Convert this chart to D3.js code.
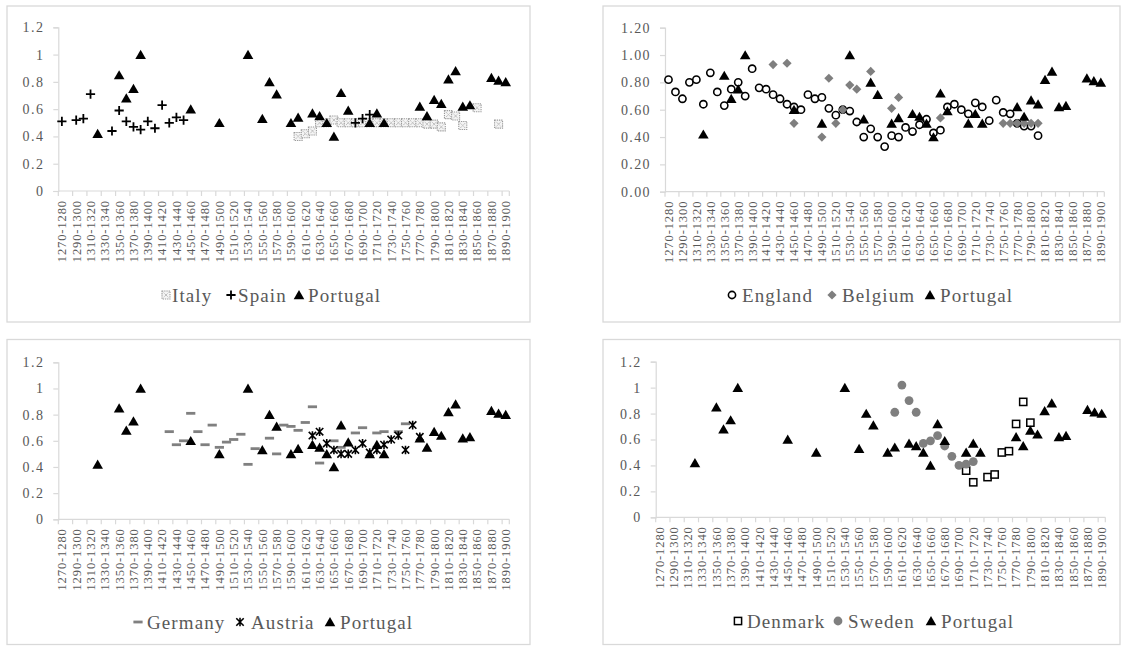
<!DOCTYPE html>
<html><head><meta charset="utf-8">
<script src="https://cdn.jsdelivr.net/npm/d3@7"></script>
<style>
body{margin:0;background:#fff;}
svg{display:block;font-family:"Liberation Serif","Times New Roman",serif;}
</style></head><body>
<svg id="c" width="1125" height="649"></svg>
<script>
// ---- data ----
const categories = d3.range(1270, 1900, 10).map(y => `${y}-${y + 10}`);
const yTicks = [0, 0.2, 0.4, 0.6, 0.8, 1, 1.2];
// [start year of decade, value]
const portugal = [[1320,0.42],[1350,0.85],[1360,0.68],[1370,0.75],[1380,1.0],[1450,0.6],[1490,0.5],[1530,1.0],[1550,0.53],[1560,0.8],[1570,0.71],[1590,0.5],[1600,0.54],[1620,0.57],[1630,0.55],[1640,0.5],[1650,0.4],[1660,0.72],[1670,0.59],[1700,0.5],[1710,0.57],[1720,0.5],[1770,0.62],[1780,0.55],[1790,0.67],[1800,0.64],[1810,0.82],[1820,0.88],[1830,0.62],[1840,0.63],[1870,0.83],[1880,0.81],[1890,0.8]];
const spain = [[1270,0.51],[1290,0.52],[1300,0.53],[1310,0.71],[1340,0.44],[1350,0.59],[1360,0.51],[1370,0.47],[1380,0.45],[1390,0.51],[1400,0.46],[1410,0.63],[1420,0.5],[1430,0.54],[1440,0.52],[1680,0.5],[1690,0.53],[1700,0.56]];
const italy = [[1600,0.40],[1610,0.42],[1620,0.44],[1630,0.5],[1640,0.5],[1650,0.52],[1660,0.5],[1670,0.5],[1680,0.5],[1690,0.5],[1700,0.5],[1710,0.5],[1720,0.5],[1730,0.5],[1740,0.5],[1750,0.5],[1760,0.5],[1770,0.5],[1780,0.49],[1790,0.49],[1800,0.47],[1810,0.56],[1820,0.55],[1830,0.48],[1850,0.61],[1880,0.49]];
const england = [[1270,0.82],[1280,0.73],[1290,0.68],[1300,0.80],[1310,0.82],[1320,0.64],[1330,0.87],[1340,0.73],[1350,0.63],[1360,0.75],[1370,0.80],[1380,0.70],[1390,0.90],[1400,0.76],[1410,0.75],[1420,0.71],[1430,0.68],[1440,0.64],[1450,0.62],[1460,0.60],[1470,0.71],[1480,0.68],[1490,0.69],[1500,0.61],[1510,0.56],[1520,0.60],[1530,0.59],[1540,0.51],[1550,0.40],[1560,0.46],[1570,0.40],[1580,0.33],[1590,0.41],[1600,0.40],[1610,0.47],[1620,0.44],[1630,0.49],[1640,0.53],[1650,0.43],[1660,0.45],[1670,0.62],[1680,0.64],[1690,0.60],[1700,0.57],[1710,0.65],[1720,0.62],[1730,0.52],[1740,0.67],[1750,0.58],[1760,0.57],[1770,0.50],[1780,0.48],[1790,0.48],[1800,0.41]];
const belgium = [[1420,0.93],[1440,0.94],[1450,0.5],[1490,0.4],[1500,0.83],[1510,0.5],[1520,0.6],[1530,0.78],[1540,0.75],[1560,0.88],[1590,0.61],[1600,0.69],[1660,0.54],[1750,0.5],[1760,0.5],[1770,0.5],[1780,0.5],[1790,0.5],[1800,0.5]];
const germany = [[1420,0.67],[1430,0.57],[1440,0.60],[1450,0.81],[1460,0.67],[1470,0.57],[1480,0.72],[1490,0.55],[1500,0.59],[1510,0.61],[1520,0.65],[1530,0.42],[1540,0.54],[1560,0.62],[1570,0.50],[1580,0.72],[1590,0.71],[1600,0.68],[1610,0.74],[1620,0.86],[1630,0.43],[1650,0.60],[1660,0.55],[1680,0.66],[1690,0.70],[1710,0.66],[1720,0.67],[1740,0.67],[1750,0.73]];
const austria = [[1620,0.64],[1630,0.67],[1640,0.58],[1650,0.53],[1660,0.50],[1670,0.50],[1680,0.53],[1690,0.58],[1700,0.51],[1710,0.53],[1720,0.57],[1730,0.61],[1740,0.64],[1750,0.53],[1760,0.72],[1770,0.63]];
const sweden = [[1600,0.81],[1610,1.02],[1620,0.90],[1630,0.81],[1640,0.57],[1650,0.59],[1660,0.63],[1670,0.55],[1680,0.47],[1690,0.40],[1700,0.41],[1710,0.43]];
const denmark = [[1700,0.36],[1710,0.27],[1730,0.31],[1740,0.33],[1750,0.50],[1760,0.51],[1770,0.72],[1780,0.89],[1790,0.73]];

const cat = yr => `${yr}-${yr + 10}`;
const GREY = "#595959", LINE = "#d9d9d9";

const panels = [
  {frame:[7,6,523,316], x0:58.3, x1:509.3, yb:191, yt:27.3, fmt:d=>String(d),
   series:[{name:"Italy",data:italy,m:"italy"},{name:"Spain",data:spain,m:"plus"},{name:"Portugal",data:portugal,m:"tri"}],
   leg:[[166,172],[231,238],[299,308]], ly:295},
  {frame:[603,6,517,316], x0:665, x1:1104.3, yb:191.7, yt:27.7, fmt:d=>d.toFixed(2),
   series:[{name:"England",data:england,m:"circleOpen"},{name:"Belgium",data:belgium,m:"diamond"},{name:"Portugal",data:portugal,m:"tri"}],
   leg:[[732,742],[832,842],[930,940]], ly:295},
  {frame:[7,339.5,523,305], x0:58.3, x1:509.3, yb:519.3, yt:362.3, fmt:d=>String(d),
   series:[{name:"Germany",data:germany,m:"dash"},{name:"Austria",data:austria,m:"star"},{name:"Portugal",data:portugal,m:"tri"}],
   leg:[[138,147],[240,251],[330,340]], ly:622},
  {frame:[603,339.5,517,305], x0:655.7, x1:1105.3, yb:517.3, yt:361.7, fmt:d=>String(d),
   series:[{name:"Denmark",data:denmark,m:"square"},{name:"Sweden",data:sweden,m:"circleGrey"},{name:"Portugal",data:portugal,m:"tri"}],
   leg:[[738,747],[838,848],[931,941]], ly:621}
];

function drawMarker(g, type) {
  switch (type) {
    case "tri":
      g.append("path").attr("d","M0,-4.9L5.3,4.3L-5.3,4.3Z").attr("fill","#000"); break;
    case "circleOpen":
      g.append("circle").attr("r",3.6).attr("fill","#fff").attr("stroke","#000").attr("stroke-width",1.6); break;
    case "diamond":
      g.append("path").attr("d","M0,-4.6L4.6,0L0,4.6L-4.6,0Z").attr("fill","#7f7f7f"); break;
    case "circleGrey":
      g.append("circle").attr("r",4.4).attr("fill","#7f7f7f"); break;
    case "square":
      g.append("rect").attr("x",-3.6).attr("y",-3.6).attr("width",7.2).attr("height",7.2)
        .attr("fill","#fff").attr("stroke","#000").attr("stroke-width",1.5); break;
    case "dash":
      g.append("rect").attr("x",-4.6).attr("y",-1.4).attr("width",9.2).attr("height",2.8).attr("fill","#808080"); break;
    case "star":
      g.append("path").attr("d","M-3.7,-3.7L3.7,3.7M3.7,-3.7L-3.7,3.7M0,-4.3L0,4.3")
        .attr("fill","none").attr("stroke","#000").attr("stroke-width",1.6); break;
    case "plus":
      g.append("path").attr("d","M-4.6,0H4.6M0,-4.6V4.6").attr("stroke","#000").attr("stroke-width",1.8); break;
    case "italy":
      g.append("rect").attr("x",-4).attr("y",-4).attr("width",8).attr("height",8)
        .attr("fill","#f4f4f4").attr("stroke","#9a9a9a").attr("stroke-width",1.1).attr("stroke-dasharray","1.3,0.9");
      g.append("path").attr("d","M-2.3,-2.3L2.3,2.3M2.3,-2.3L-2.3,2.3")
        .attr("stroke","#a8a8a8").attr("stroke-width",1).attr("stroke-dasharray","1,0.8"); break;
  }
}

const svg = d3.select("#c");

panels.forEach(p => {
  const g = svg.append("g");
  g.append("rect").attr("x",p.frame[0]).attr("y",p.frame[1]).attr("width",p.frame[2]).attr("height",p.frame[3])
    .attr("fill","#fff").attr("stroke",LINE).attr("stroke-width",1.3);

  const x = d3.scaleBand().domain(categories).range([p.x0, p.x1]).paddingInner(0).paddingOuter(0);
  const y = d3.scaleLinear().domain([0, 1.2]).range([p.yb, p.yt]);

  // y axis
  const ya = g.append("g").attr("transform",`translate(${p.x0},0)`)
    .call(d3.axisLeft(y).tickValues(yTicks).tickSize(5).tickPadding(9).tickFormat(p.fmt));
  ya.select(".domain").attr("stroke",LINE).attr("stroke-width",1.2);
  ya.selectAll(".tick line").attr("stroke",LINE).attr("stroke-width",1.2);
  ya.selectAll("text").attr("fill",GREY).style("font-size","14px").style("letter-spacing","1.4px")
    .style("font-family","'Liberation Serif',serif");

  // x axis line + boundary ticks
  const xg = g.append("g").attr("transform",`translate(0,${p.yb})`);
  xg.append("line").attr("x1",p.x0).attr("x2",p.x1).attr("stroke",LINE).attr("stroke-width",1.2);
  const bounds = categories.filter((c,i)=>i%2===0).map(c=>x(c)).concat([p.x1]);
  xg.selectAll("line.tk").data(bounds).join("line").attr("class","tk")
    .attr("x1",d=>d).attr("x2",d=>d).attr("y1",0).attr("y2",5).attr("stroke",LINE).attr("stroke-width",1.2);

  // x labels (every other category)
  const xl = g.append("g").attr("transform",`translate(0,${p.yb})`)
    .call(d3.axisBottom(x).tickValues(categories.filter((c,i)=>i%2===0)).tickSize(0));
  xl.select(".domain").remove();
  xl.selectAll("text").attr("fill",GREY).style("font-size","12.5px").style("letter-spacing","0.9px")
    .style("font-family","'Liberation Serif',serif")
    .attr("transform","rotate(-90)").attr("text-anchor","end").attr("x",-9).attr("y",0).attr("dy","0.35em");

  // series
  p.series.forEach(s => {
    g.append("g").selectAll("g").data(s.data).join("g")
      .attr("transform", d => `translate(${x(cat(d[0])) + x.bandwidth()/2},${y(d[1])})`)
      .each(function(){ drawMarker(d3.select(this), s.m); });
  });

  // legend
  p.series.forEach((s, i) => {
    const [mx, tx] = p.leg[i];
    const mg = g.append("g").attr("transform",`translate(${mx},${p.ly})`);
    drawMarker(mg, s.m);
    g.append("text").attr("x", tx).attr("y", p.ly+6.5).attr("fill",GREY)
      .style("font-size","19px").style("letter-spacing","1.1px").text(s.name);
  });
});
</script>
</body></html>
